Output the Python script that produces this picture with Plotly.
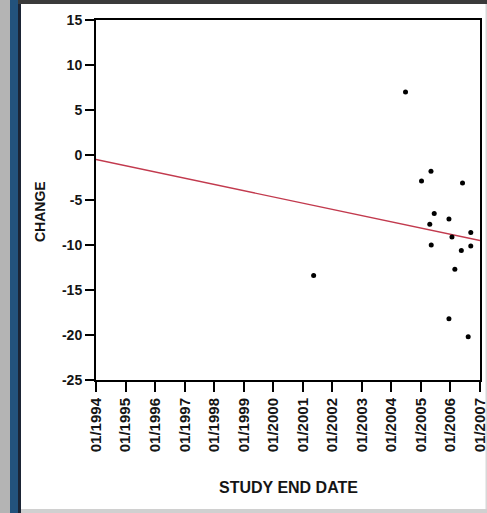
import plotly.graph_objects as go

# Data
study_end_dates = ["2004-06-24", "2005-05-05", "2005-01-08", "2006-05-30",
                   "2005-06-14", "2005-12-13", "2005-04-20", "2006-09-09",
                   "2006-01-19", "2005-05-08", "2006-09-09", "2006-05-15",
                   "2006-02-24", "2001-05-15", "2005-12-13", "2006-08-08"]
change_values = [7.0, -1.8, -2.9, -3.1,
                 -6.5, -7.1, -7.7, -8.6,
                 -9.1, -10.0, -10.1, -10.6,
                 -12.7, -13.4, -18.2, -20.2]
trend_dates = ["1994-01-01", "2007-01-01"]
trend_values = [-0.5, -9.5]
x_tick_dates = [f"{y}-01-01" for y in range(1994, 2008)]
x_tick_labels = [f"01/{y}" for y in range(1994, 2008)]
y_ticks = [15, 10, 5, 0, -5, -10, -15, -20, -25]
y_tick_labels = ["15", "10", "5", "0", "-5", "-10", "-15", "-20", "-25"]

W, H = 487, 513
L, R, T, B = 96, 7, 20, 133
PW, PH = W - L - R, H - T - B

def px(x):
    return (x - L) / PW

def py(y):
    return (H - B - y) / PH

font_family = "Arial, 'Liberation Sans', sans-serif"
txt = "#151515"

fig = go.Figure()
fig.add_trace(go.Scatter(
    x=trend_dates, y=trend_values, mode="lines",
    line=dict(color="#c23a4e", width=1.3), showlegend=False, hoverinfo="skip"))
fig.add_trace(go.Scatter(
    x=study_end_dates, y=change_values, mode="markers",
    marker=dict(color="black", size=5), showlegend=False))

fig.update_layout(
    width=W, height=H,
    margin=dict(l=L, r=R, t=T, b=B, pad=0, autoexpand=False),
    paper_bgcolor="white", plot_bgcolor="white",
    font=dict(family=font_family, size=13, color=txt),
    xaxis=dict(
        type="date", range=["1994-01-01", "2007-01-01"],
        tickmode="array", tickvals=x_tick_dates, ticktext=x_tick_labels,
        tickangle=-90, ticks="outside", ticklen=10, tickwidth=1.5, tickcolor="black",
        showline=True, linecolor="black", linewidth=2, mirror=True,
        showgrid=False, zeroline=False, automargin=False,
        ticklabeloverflow="allow",
        tickfont=dict(size=15, weight="bold"),
    ),
    yaxis=dict(
        range=[-25, 15], tickmode="array", tickvals=y_ticks, ticktext=y_tick_labels,
        ticks="outside", ticklen=9, tickwidth=1.5, tickcolor="black",
        showline=True, linecolor="black", linewidth=2, mirror=True,
        showgrid=False, zeroline=False, automargin=False,
        ticklabeloverflow="allow",
        tickfont=dict(size=14, weight="bold"),
    ),
    annotations=[
        dict(text="<b>CHANGE</b>", x=px(40), y=py(212), xref="paper", yref="paper",
             textangle=-90, showarrow=False, font=dict(size=14, color=txt),
             xanchor="center", yanchor="middle"),
        dict(text="<b>STUDY END DATE</b>", x=px(288), y=py(487), xref="paper", yref="paper",
             showarrow=False, font=dict(size=16, color=txt),
             xanchor="center", yanchor="middle"),
    ],
    shapes=[
        dict(type="rect", xref="paper", yref="paper", x0=px(0), x1=px(10), y0=py(513), y1=py(0),
             fillcolor="#b4b4b4", line=dict(width=0), layer="above"),
        dict(type="rect", xref="paper", yref="paper", x0=px(10), x1=px(18), y0=py(513), y1=py(0),
             fillcolor="#23527c", line=dict(width=0), layer="above"),
        dict(type="rect", xref="paper", yref="paper", x0=px(18), x1=px(21), y0=py(513), y1=py(0),
             fillcolor="#1b2435", line=dict(width=0), layer="above"),
        dict(type="rect", xref="paper", yref="paper", x0=px(18), x1=px(487), y0=py(4), y1=py(0),
             fillcolor="#3a3a3a", line=dict(width=0), layer="above"),
        dict(type="rect", xref="paper", yref="paper", x0=px(485.5), x1=px(487), y0=py(513), y1=py(4),
             fillcolor="#d8d8d8", line=dict(width=0), layer="below"),
        dict(type="rect", xref="paper", yref="paper", x0=px(21), x1=px(487), y0=py(513), y1=py(509),
             fillcolor="#d0d0d0", line=dict(width=0), layer="above"),
    ],
)

fig.write_html("out.html")
